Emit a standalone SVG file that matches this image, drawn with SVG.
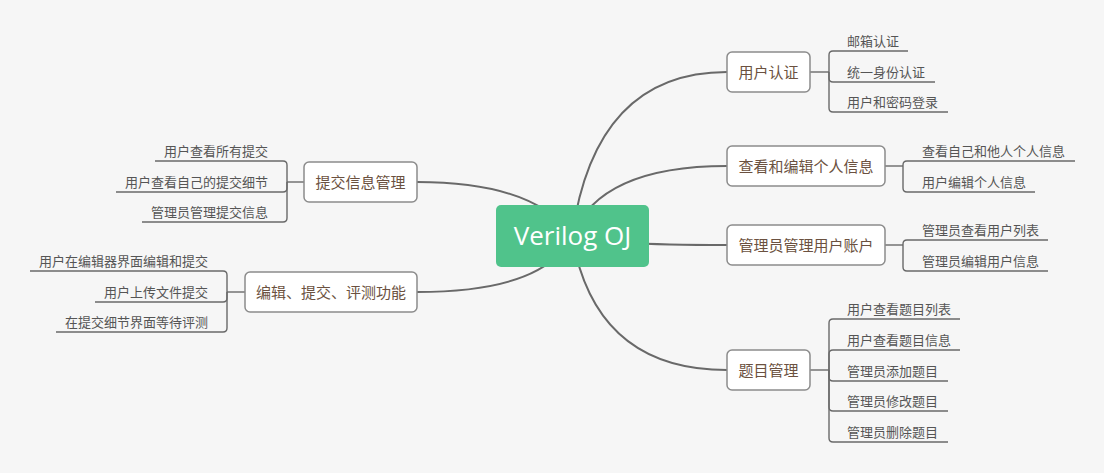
<svg xmlns="http://www.w3.org/2000/svg" width="1104" height="473" viewBox="0 0 1104 473">
<style>
.bg{fill:#f6f6f6}
.main{fill:none;stroke:#696969;stroke-width:2;stroke-linecap:round}
.sub{fill:none;stroke:#6a6a6a;stroke-width:1.4}
.node{fill:#ffffff;stroke:#8c8c8c;stroke-width:1.5}
.nt{font-family:"Noto Sans CJK SC","Noto Sans",sans-serif;font-size:15px;fill:#6b5140}
.it{font-family:"Noto Sans CJK SC","Noto Sans",sans-serif;font-size:13px;fill:#555555}
.ct{font-family:"Open Sans","Noto Sans",sans-serif;font-size:26px;fill:#ffffff}
</style>
<rect class="bg" x="0" y="0" width="1104" height="473"/>
<g id="connectors">
<path class="main" d="M572 236 Q595 72 727 72"/>
<path class="main" d="M572 236 Q600 166 727 166"/>
<path class="main" d="M572 236 Q600 245 727 245"/>
<path class="main" d="M572 236 Q595 370 727 370"/>
<path class="main" d="M572 236 Q535 182 417 182"/>
<path class="main" d="M572 236 Q545 292 417 292"/>
<!-- 用户认证 -->
<path class="sub" d="M810 72 H829"/>
<path class="sub" d="M829 72 V55 Q829 51 833 51 H908"/>
<path class="sub" d="M829 72 V78 Q829 82 833 82 H935"/>
<path class="sub" d="M829 72 V108 Q829 112 833 112 H948"/>
<!-- 查看和编辑个人信息 -->
<path class="sub" d="M885 166 H903"/>
<path class="sub" d="M903 166 V165 Q903 161 907 161 H1075"/>
<path class="sub" d="M903 166 V188 Q903 192 907 192 H1035"/>
<!-- 管理员管理用户账户 -->
<path class="sub" d="M885 245 H903"/>
<path class="sub" d="M903 245 V244 Q903 240 907 240 H1048"/>
<path class="sub" d="M903 245 V267 Q903 271 907 271 H1048"/>
<!-- 题目管理 -->
<path class="sub" d="M810 370 H829"/>
<path class="sub" d="M829 370 V323 Q829 319 833 319 H960"/>
<path class="sub" d="M829 370 V354 Q829 350 833 350 H960"/>
<path class="sub" d="M829 370 V377 Q829 381 833 381 H948"/>
<path class="sub" d="M829 370 V407 Q829 411 833 411 H948"/>
<path class="sub" d="M829 370 V438 Q829 442 833 442 H948"/>
<!-- 提交信息管理 -->
<path class="sub" d="M304 182 H287"/>
<path class="sub" d="M287 182 V165 Q287 161 283 161 H155"/>
<path class="sub" d="M287 182 V188 Q287 192 283 192 H116"/>
<path class="sub" d="M287 182 V218 Q287 222 283 222 H142"/>
<!-- 编辑、提交、评测功能 -->
<path class="sub" d="M245 292 H227"/>
<path class="sub" d="M227 292 V275 Q227 271 223 271 H30"/>
<path class="sub" d="M227 292 V298 Q227 302 223 302 H95"/>
<path class="sub" d="M227 292 V328 Q227 332 223 332 H56"/>
</g>
<g id="center">
<rect x="496" y="205" width="153" height="62" rx="5" fill="#50c38b"/>
<text class="ct" x="572.5" y="245" text-anchor="middle">Verilog OJ</text>
</g>
<g id="n-auth">
<rect class="node" x="727" y="52" width="83" height="40" rx="5"/>
<text class="nt" x="768.5" y="77.5" text-anchor="middle">用户认证</text>
<text class="it" x="847" y="45.5">邮箱认证</text>
<text class="it" x="847" y="76.5">统一身份认证</text>
<text class="it" x="847" y="106.5">用户和密码登录</text>
</g>
<g id="n-profile">
<rect class="node" x="727" y="146" width="158" height="40" rx="5"/>
<text class="nt" x="806" y="171.5" text-anchor="middle">查看和编辑个人信息</text>
<text class="it" x="922" y="155.5">查看自己和他人个人信息</text>
<text class="it" x="922" y="186.5">用户编辑个人信息</text>
</g>
<g id="n-account">
<rect class="node" x="727" y="225" width="158" height="40" rx="5"/>
<text class="nt" x="806" y="250.5" text-anchor="middle">管理员管理用户账户</text>
<text class="it" x="922" y="234.5">管理员查看用户列表</text>
<text class="it" x="922" y="265.5">管理员编辑用户信息</text>
</g>
<g id="n-problem">
<rect class="node" x="727" y="350" width="83" height="40" rx="5"/>
<text class="nt" x="768.5" y="375.5" text-anchor="middle">题目管理</text>
<text class="it" x="847" y="313.5">用户查看题目列表</text>
<text class="it" x="847" y="344.5">用户查看题目信息</text>
<text class="it" x="847" y="375.5">管理员添加题目</text>
<text class="it" x="847" y="405.5">管理员修改题目</text>
<text class="it" x="847" y="436.5">管理员删除题目</text>
</g>
<g id="n-submission">
<rect class="node" x="304" y="162" width="113" height="40" rx="5"/>
<text class="nt" x="360.5" y="187.5" text-anchor="middle">提交信息管理</text>
<text class="it" x="268" y="155.5" text-anchor="end">用户查看所有提交</text>
<text class="it" x="268" y="186.5" text-anchor="end">用户查看自己的提交细节</text>
<text class="it" x="268" y="216.5" text-anchor="end">管理员管理提交信息</text>
</g>
<g id="n-edit">
<rect class="node" x="245" y="272" width="172" height="40" rx="5"/>
<text class="nt" x="331" y="297.5" text-anchor="middle">编辑、提交、评测功能</text>
<text class="it" x="208" y="265.5" text-anchor="end">用户在编辑器界面编辑和提交</text>
<text class="it" x="208" y="296.5" text-anchor="end">用户上传文件提交</text>
<text class="it" x="208" y="326.5" text-anchor="end">在提交细节界面等待评测</text>
</g>
</svg>
